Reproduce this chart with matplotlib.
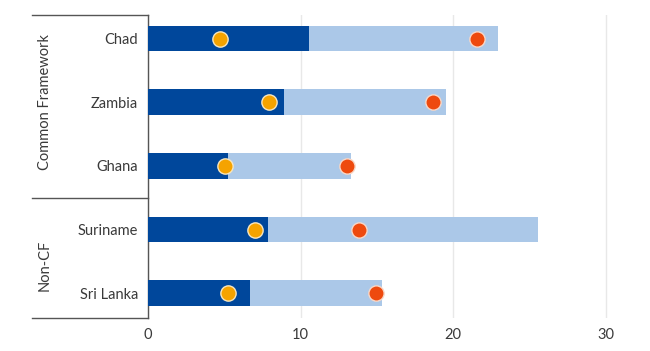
import matplotlib
matplotlib.use("Agg")
import matplotlib.pyplot as plt
import matplotlib.transforms as mtransforms

countries = ["Chad", "Zambia", "Ghana", "Suriname", "Sri Lanka"]
dark_vals = [10.56, 8.95, 5.25, 7.85, 6.7]
light_vals = [22.92, 19.52, 13.33, 25.55, 15.37]
orange_vals = [4.73, 7.96, 5.06, 7.03, 5.27]
red_vals = [21.55, 18.7, 13.08, 13.85, 14.98]
groups = ["Common Framework", "Non-CF"]
group_label_pos = [0.99, 3.56]
group_bounds = [-0.37, 2.5, 4.39]
xticks = [0, 10, 20, 30]

plt.rcParams['font.family'] = ['Lato', 'DejaVu Sans']

fig = plt.figure(figsize=(6.5, 3.51), dpi=100)
ax = fig.add_axes([148/650, 1-318/351, 32*15.25/650, (318-15)/351])

ypos = list(range(len(countries)))
ax.barh(ypos, light_vals, height=0.4, color="#abc8e8", zorder=2)
ax.barh(ypos, dark_vals, height=0.4, color="#00479b", zorder=3)
ax.plot(orange_vals, ypos, 'o', ms=11, color="#f5a300", mec="#f7e6c0", mew=1.0, ls='none', zorder=4)
ax.plot(red_vals, ypos, 'o', ms=11, color="#ee4a0e", mec="#f8d8c8", mew=1.0, ls='none', zorder=4)

ax.set_xlim(0, 32)
ax.set_ylim(4.39, -0.37)
ax.set_xticks(xticks)
ax.set_xticklabels([str(t) for t in xticks])
ax.set_yticks(ypos)
ax.set_yticklabels(countries)
ax.tick_params(axis='both', length=0, labelsize=10.5, colors="#3a3a3a")
ax.tick_params(axis='y', pad=7)
ax.tick_params(axis='x', pad=7)
for s in ["top", "right", "bottom"]:
    ax.spines[s].set_visible(False)
ax.spines["left"].set_color("#555555")
ax.spines["left"].set_linewidth(1.0)
ax.xaxis.grid(True, color="#e8e8e8", lw=1)
ax.set_axisbelow(True)

trans = mtransforms.blended_transform_factory(ax.transAxes, ax.transData)
xl = (32-148)/(32*15.25)
for yb in group_bounds:
    ax.plot([xl, 0], [yb, yb], color="#555555", lw=1.0, transform=trans, clip_on=False)
gx = (45-148)/(32*15.25)
for g, yc in zip(groups, group_label_pos):
    ax.text(gx, yc, g, rotation=90, ha='center', va='center', fontsize=10.5,
            color="#3a3a3a", transform=trans)

fig.savefig("out.png", dpi=100)
